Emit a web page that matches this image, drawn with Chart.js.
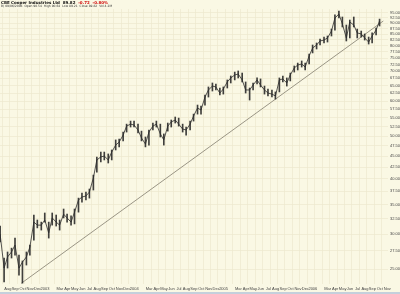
<!DOCTYPE html>
<html>
<head>
<meta charset="utf-8">
<script src="https://cdn.jsdelivr.net/npm/chart.js@4.4.1/dist/chart.umd.min.js"></script>
<style>
html, body { margin: 0; padding: 0; background: #faf8e4; }
#wrap { position: relative; width: 400px; height: 294px; overflow: hidden; background: #faf8e4; }
#chart { position: absolute; left: 0; top: 0; }
.hdr { position: absolute; left: 1px; white-space: nowrap; font-family: "DejaVu Sans", sans-serif; line-height: 1; }
#t1 { top: 1px; font-size: 4px; font-weight: bold; color: #111; }
#t1 .dn { color: #d01010; }
#t2 { top: 5px; font-size: 3px; color: #333; }
#foot { position: absolute; left: 0; top: 292px; width: 400px; height: 2px; background: #c4d0dc; }
</style>
</head>
<body>
<div id="wrap">
  <canvas id="chart" width="400" height="294"></canvas>
  <div class="hdr" id="t1">CBE Cooper Industries Ltd &nbsp;89.82 &nbsp;<span class="dn">-0.72 &nbsp;-0.80%</span></div>
  <div class="hdr" id="t2">B) 09/06/2006 &nbsp;Open 90.54 &nbsp;High 90.64 &nbsp;Low 89.21 &nbsp;Close 89.82 &nbsp;Vol 4.2M</div>
  <div id="foot"></div>
</div>
<script>
// half-monthly samples
const dates = [
    '2002-07-15', '2002-08-01', '2002-08-15', '2002-09-01', '2002-09-15', '2002-10-01', '2002-10-15',
    '2002-11-01', '2002-11-15', '2002-12-01', '2002-12-15',
    '2003-01-01', '2003-01-15', '2003-02-01', '2003-02-15', '2003-03-01', '2003-03-15', '2003-04-01', '2003-04-15',
    '2003-05-01', '2003-05-15', '2003-06-01', '2003-06-15', '2003-07-01', '2003-07-15', '2003-08-01', '2003-08-15',
    '2003-09-01', '2003-09-15', '2003-10-01', '2003-10-15', '2003-11-01', '2003-11-15', '2003-12-01', '2003-12-15',
    '2004-01-01', '2004-01-15', '2004-02-01', '2004-02-15', '2004-03-01', '2004-03-15', '2004-04-01', '2004-04-15',
    '2004-05-01', '2004-05-15', '2004-06-01', '2004-06-15', '2004-07-01', '2004-07-15', '2004-08-01', '2004-08-15',
    '2004-09-01', '2004-09-15', '2004-10-01', '2004-10-15', '2004-11-01', '2004-11-15', '2004-12-01', '2004-12-15',
    '2005-01-01', '2005-01-15', '2005-02-01', '2005-02-15', '2005-03-01', '2005-03-15', '2005-04-01', '2005-04-15',
    '2005-05-01', '2005-05-15', '2005-06-01', '2005-06-15', '2005-07-01', '2005-07-15', '2005-08-01', '2005-08-15',
    '2005-09-01', '2005-09-15', '2005-10-01', '2005-10-15', '2005-11-01', '2005-11-15', '2005-12-01', '2005-12-15',
    '2006-01-01', '2006-01-15', '2006-02-01', '2006-02-15', '2006-03-01', '2006-03-15', '2006-04-01', '2006-04-15',
    '2006-05-01', '2006-05-15', '2006-06-01', '2006-06-15', '2006-07-01', '2006-07-15', '2006-08-01', '2006-08-15',
    '2006-09-01', '2006-09-15', '2006-10-01', '2006-10-15'
];

const highs = [
    31.3, 26.5, 27.35, 27.9, 29.4, 26.9, 26.1, 27.35, 28.35, 33.15, 32.3,
    31.95, 33.5, 31.95, 33.5, 33.15, 32.3, 34.2, 33.3, 33.0, 34.2, 36.2, 37.15,
    37.35, 37.95, 40.8, 44.8, 46.0, 46.0, 45.55, 46.5, 49.0, 49.2, 51.05, 53.2,
    54.05, 54.05, 53.2, 51.3, 49.75, 51.6, 53.5, 54.05, 53.2, 50.55, 53.5, 54.35,
    55.2, 54.9, 53.2, 52.4, 54.05, 56.05, 58.75, 58.45, 61.9, 64.55, 65.9, 65.55,
    64.2, 64.55, 66.95, 68.35, 69.75, 70.15, 69.4, 66.25, 64.2, 65.9, 67.65, 67.3,
    64.85, 63.85, 63.55, 62.9, 67.65, 68.35, 67.65, 69.4, 72.0, 73.1, 73.9, 73.1,
    76.6, 80.3, 81.15, 82.85, 83.7, 84.15, 87.25, 93.9, 95.8, 92.9, 89.1, 91.45,
    92.9, 87.25, 86.35, 85.05, 83.7, 85.5, 87.75, 91.9
];

const lows = [
    28.8, 23.4, 25.15, 26.5, 26.9, 24.25, 23.25, 25.55, 26.9, 29.1, 31.0,
    30.65, 31.95, 29.4, 31.45, 31.3, 30.65, 32.65, 31.95, 31.45, 31.65, 33.65, 35.45,
    35.85, 36.2, 37.75, 41.45, 43.7, 44.15, 43.45, 44.15, 46.5, 47.25, 48.75, 51.05,
    52.4, 52.4, 50.8, 48.75, 47.25, 47.7, 51.6, 52.4, 49.75, 47.7, 51.3, 52.4,
    53.5, 52.65, 51.05, 50.25, 51.6, 54.05, 56.05, 56.05, 58.75, 61.25, 63.2, 63.55,
    61.9, 62.2, 64.2, 65.9, 66.95, 67.65, 66.25, 62.55, 60.3, 63.55, 65.55, 64.55,
    62.2, 61.6, 61.25, 60.6, 62.9, 66.25, 64.85, 66.6, 69.75, 70.5, 71.6, 70.5,
    72.75, 77.05, 78.65, 80.3, 81.15, 81.55, 84.15, 86.8, 92.4, 88.2, 82.0, 83.3,
    88.2, 83.3, 83.7, 82.4, 80.7, 81.15, 84.6, 88.65
];

const closes = [
    30.0, 25.15, 26.65, 27.35, 28.35, 25.15, 25.95, 26.65, 28.05, 31.95, 31.45,
    31.45, 32.3, 30.2, 32.65, 31.95, 31.45, 33.3, 32.65, 31.95, 33.65, 35.85, 36.4,
    36.6, 37.35, 40.2, 44.15, 44.85, 45.05, 44.15, 46.0, 47.7, 48.45, 50.25, 52.65,
    53.2, 52.95, 51.6, 49.5, 47.95, 51.05, 52.65, 53.2, 50.55, 49.0, 52.65, 53.8,
    54.35, 53.2, 51.85, 51.6, 53.2, 55.5, 57.85, 57.25, 61.25, 63.55, 64.85, 64.55,
    62.55, 63.85, 66.25, 67.65, 68.7, 69.05, 66.95, 63.55, 63.55, 65.2, 66.95, 65.2,
    63.55, 62.55, 62.2, 61.6, 66.95, 67.3, 65.9, 68.7, 71.25, 72.35, 72.75, 71.6,
    75.85, 79.05, 80.3, 82.0, 82.4, 83.3, 86.35, 92.4, 94.35, 89.6, 83.3, 90.5,
    89.1, 85.5, 85.05, 83.3, 81.55, 84.15, 86.8, 91.0
];

// trend line drawn on the chart
const trendDates = ['2002-10-10', '2006-10-30'];
const trendValues = [23.23, 90.98];

const yTicks = [25, 27.5, 30, 32.5, 35, 37.5, 40, 42.5, 45, 47.5, 50, 52.5, 55, 57.5, 60,
    62.5, 65, 67.5, 70, 72.5, 75, 77.5, 80, 82.5, 85, 87.5, 90, 92.5, 95];
// null -> show the year, '' -> no label
const monthLabels = [null, '', 'Mar', 'Apr', 'May', 'Jun', 'Jul', 'Aug', 'Sep', 'Oct', 'Nov', 'Dec'];

const gridColor = '#ece8cf';
const textColor = '#444';

// months counted from Jan 2003
function toMonth(d) {
    const [y, m, day] = d.split('-').map(Number);
    return (y - 2003) * 12 + (m - 1) + (day - 1) / 30;
}

function monthLabel(v) {
    if (Number.isInteger(v)) return '';
    const m = Math.floor(v);
    const idx = ((m % 12) + 12) % 12;
    const lab = monthLabels[idx];
    return lab === null ? String(2003 + Math.floor(m / 12)) : lab;
}

const ctx = document.getElementById('chart').getContext('2d');
new Chart(ctx, {
    type: 'bar',
    data: {
        datasets: [{
            type: 'bar',
            data: dates.map((d, i) => ({ x: toMonth(d), y: [lows[i], highs[i]] })),
            backgroundColor: 'rgba(30,30,30,0.85)',
            barThickness: 1,
            order: 2
        }, {
            type: 'line',
            data: dates.map((d, i) => ({ x: toMonth(d), y: closes[i] })),
            borderColor: '#2a2a2a',
            borderWidth: 0.8,
            pointRadius: 0,
            tension: 0,
            order: 1
        }, {
            type: 'line',
            data: trendDates.map((d, i) => ({ x: toMonth(d), y: trendValues[i] })),
            borderColor: '#8f8a7a',
            borderWidth: 0.9,
            pointRadius: 0,
            order: 3
        }]
    },
    options: {
        responsive: false,
        animation: false,
        devicePixelRatio: 1,
        layout: { padding: { top: 9, left: 0, right: 0, bottom: 0 } },
        plugins: { legend: { display: false }, tooltip: { enabled: false } },
        scales: {
            x: {
                type: 'linear',
                min: -5.55,
                max: 46.6,
                offset: false,
                afterBuildTicks: s => {
                    const t = [];
                    for (let v = -5; v <= 46.5; v += 0.5) t.push({ value: v });
                    s.ticks = t;
                },
                afterFit: s => { s.height = 10; },
                ticks: {
                    autoSkip: false,
                    maxRotation: 0,
                    padding: 2,
                    color: textColor,
                    font: { family: 'Liberation Sans', size: 4 },
                    callback: v => monthLabel(v)
                },
                grid: {
                    drawTicks: false,
                    lineWidth: 0.7,
                    color: c => (c.tick && Number.isInteger(c.tick.value)) ? gridColor : 'rgba(0,0,0,0)'
                },
                border: { display: false }
            },
            y: {
                type: 'logarithmic',
                position: 'right',
                min: 23.15,
                max: 96.85,
                afterBuildTicks: s => { s.ticks = yTicks.map(v => ({ value: v })); },
                afterFit: s => { s.width = 12; },
                ticks: {
                    autoSkip: false,
                    padding: 2,
                    color: textColor,
                    font: { family: 'Liberation Sans', size: 4 },
                    callback: v => Number(v).toFixed(2)
                },
                grid: { drawTicks: false, lineWidth: 0.7, color: gridColor },
                border: { display: false }
            }
        }
    }
});
</script>
</body>
</html>
